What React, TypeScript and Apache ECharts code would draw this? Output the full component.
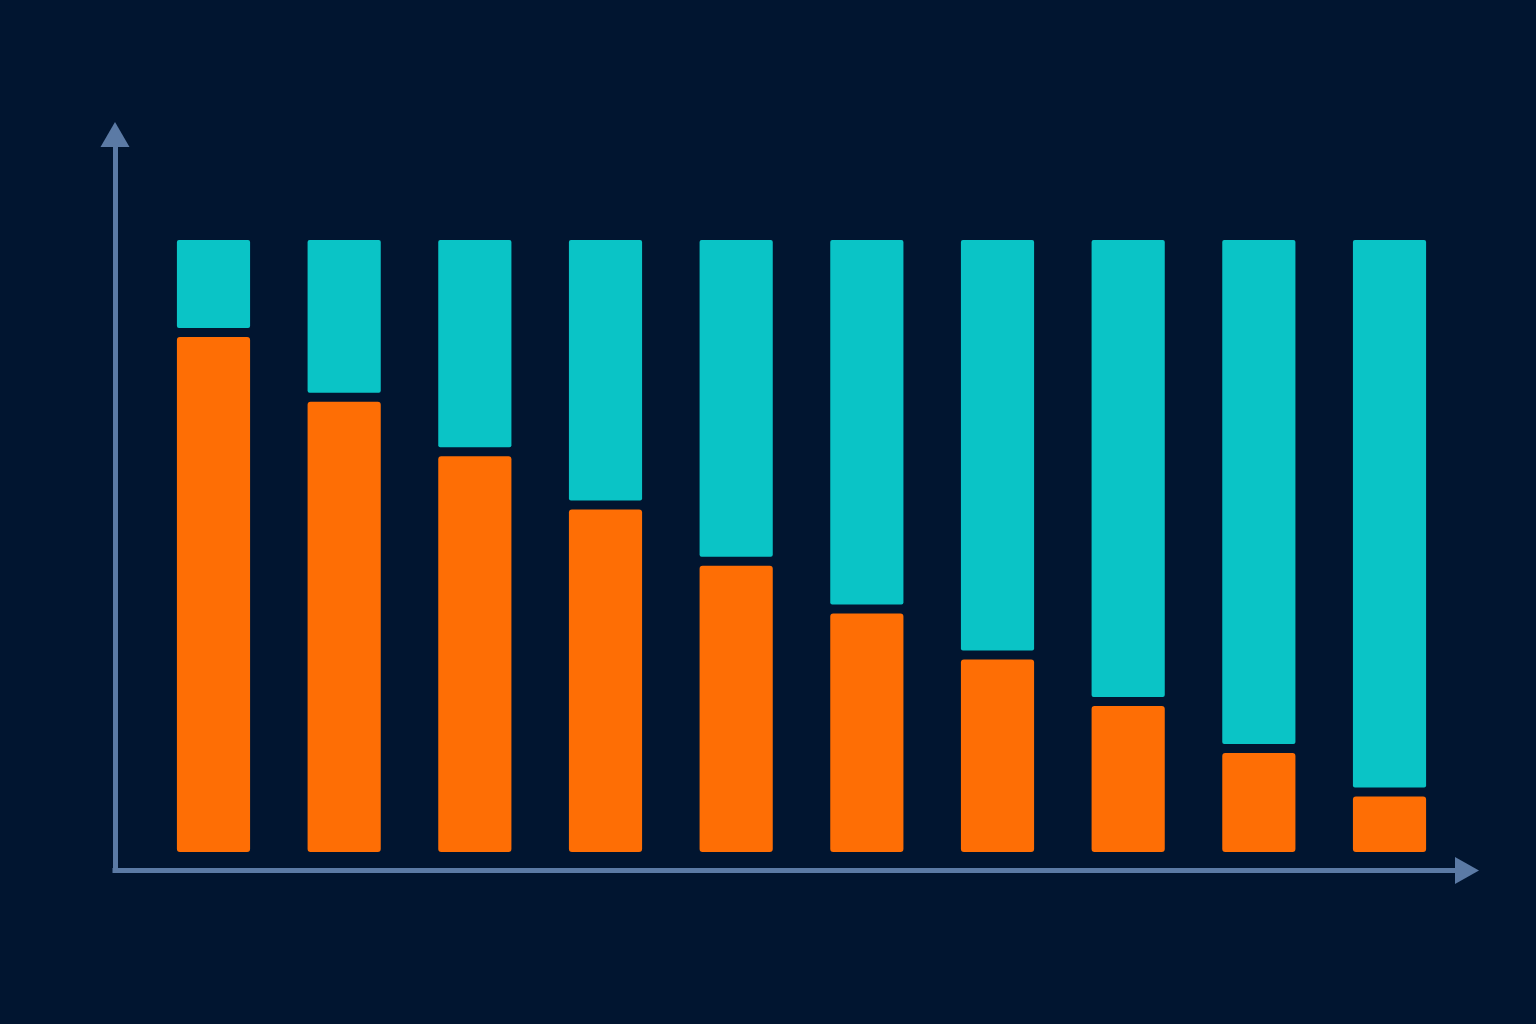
import React, { useEffect, useRef } from "react";
import * as echarts from "echarts";

const categories = ["1", "2", "3", "4", "5", "6", "7", "8", "9", "10"];
const orangeValues = [84.9, 74.3, 65.4, 56.7, 47.5, 39.7, 32.2, 24.6, 16.9, 9.8];
const tealValues = [15.1, 25.7, 34.6, 43.3, 52.5, 60.3, 67.8, 75.4, 83.1, 90.2];

const BG = "#011530";
const ORANGE = "#fe6e05";
const TEAL = "#0ac4c6";
const AXIS = "#5b7aa5";

export default function App() {
  const ref = useRef<HTMLDivElement>(null);

  useEffect(() => {
    const chart = echarts.init(ref.current!, undefined, { renderer: "svg" });
    const data = categories.map((_, i) => [i, orangeValues[i], tealValues[i]]);
    const GAP = 9;

    chart.setOption({
      animation: false,
      backgroundColor: BG,
      grid: { left: 115, right: 69, top: 134.5, bottom: 153.5, containLabel: false },
      xAxis: {
        type: "value",
        min: -0.7538,
        max: 9.593,
        axisLine: {
          show: true,
          onZero: false,
          symbol: ["none", "triangle"],
          symbolSize: [27, 24],
          lineStyle: { color: AXIS, width: 5, cap: "square" },
        },
        axisTick: { show: false },
        axisLabel: { show: false },
        splitLine: { show: false },
      },
      yAxis: {
        type: "value",
        min: -3.023,
        max: 117.24,
        axisLine: {
          show: true,
          onZero: false,
          symbol: ["none", "triangle"],
          symbolSize: [29, 25],
          lineStyle: { color: AXIS, width: 5, cap: "square" },
        },
        axisTick: { show: false },
        axisLabel: { show: false },
        splitLine: { show: false },
      },
      series: [
        {
          type: "custom",
          data,
          encode: { x: 0, y: [1, 2] },
          renderItem: (params: any, api: any) => {
            const i = api.value(0);
            const o = api.value(1);
            const t = api.value(2);
            const p0 = api.coord([i, 0]);
            const pO = api.coord([i, o]);
            const pT = api.coord([i, o + t]);
            const w = api.size([1, 0])[0] * 0.56;
            const x = p0[0] - w / 2;
            const oTop = pO[1] + GAP / 2;
            const tBottom = pO[1] - GAP / 2;
            return {
              type: "group",
              children: [
                {
                  type: "rect",
                  shape: { x, y: oTop, width: w, height: p0[1] - oTop, r: 3 },
                  style: { fill: ORANGE },
                },
                {
                  type: "rect",
                  shape: { x, y: pT[1], width: w, height: tBottom - pT[1], r: 2 },
                  style: { fill: TEAL },
                },
              ],
            };
          },
        },
      ],
    });

    return () => chart.dispose();
  }, []);

  return (
    <div
      ref={ref}
      style={{ position: "fixed", left: 0, top: 0, width: 1536, height: 1024 }}
    />
  );
}
